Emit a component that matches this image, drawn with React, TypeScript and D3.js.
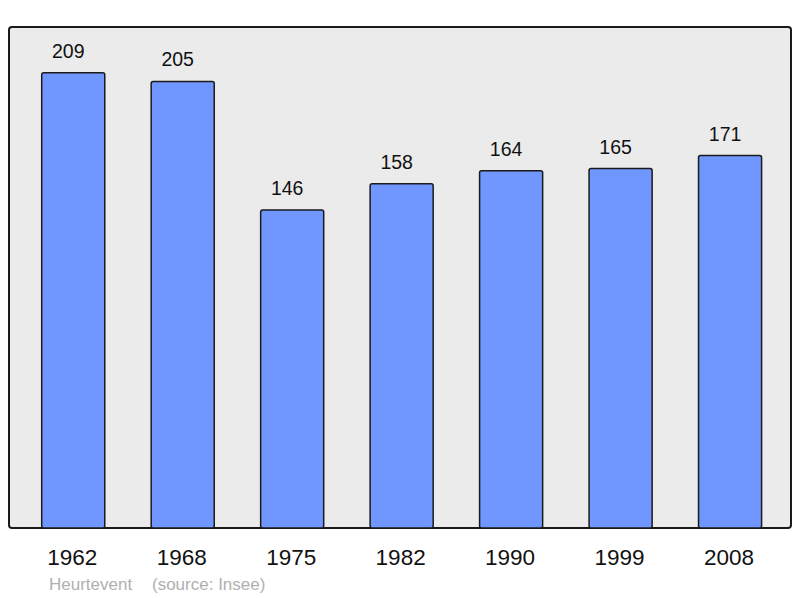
import React from 'react';
import * as d3 from 'd3';

const years: string[] = ['1962', '1968', '1975', '1982', '1990', '1999', '2008'];
const population: number[] = [209, 205, 146, 158, 164, 165, 171];
const commune = 'Heurtevent';
const source = '(source: Insee)';

const width = 800;
const height = 598;
const frame = { left: 9, top: 27, right: 791, bottom: 528 };

function App() {
    const x = d3.scaleBand<string>()
        .domain(years)
        .range([18.5, 784.8])
        .paddingInner(0.424)
        .paddingOuter(0.212);

    const y = d3.scaleLinear()
        .domain([0, 230])
        .range([frame.bottom, frame.top]);

    const mid = (yr: string) => (x(yr) as number) + x.bandwidth() / 2;

    return (
        <svg
            width={width}
            height={height}
            style={{ position: 'absolute', left: 0, top: 0 }}
            fontFamily="'Liberation Sans', Arial, sans-serif"
        >
            <rect x={0} y={0} width={width} height={height} fill="#ffffff" />
            <rect
                x={frame.left}
                y={frame.top}
                width={frame.right - frame.left}
                height={frame.bottom - frame.top}
                rx={3}
                fill="#ebebeb"
                stroke="#1a1a1a"
                strokeWidth={2}
            />
            <g className="bars">
                {years.map((yr, i) => (
                    <rect
                        key={yr}
                        x={x(yr)}
                        y={y(population[i])}
                        width={x.bandwidth()}
                        height={y(0) - y(population[i])}
                        rx={2}
                        fill="#7096ff"
                        stroke="#1a1a1a"
                        strokeWidth={1.5}
                    />
                ))}
            </g>
            {/* labels sit a little left of the bar centre, as in the original */}
            <g className="values" fontSize={19.5} fill="#111" textAnchor="middle">
                {years.map((yr, i) => (
                    <text key={yr} x={mid(yr) - 5} y={y(population[i]) - 15}>
                        {population[i]}
                    </text>
                ))}
            </g>
            <g className="x-axis" fontSize={22.5} fill="#111" textAnchor="middle">
                {years.map((yr) => (
                    <text key={yr} x={mid(yr) - 1} y={565}>
                        {yr}
                    </text>
                ))}
            </g>
            <text x={49} y={590} fontSize={17} fill="#b0b0b0">{commune}</text>
            <text x={152} y={590} fontSize={17} fill="#b0b0b0">{source}</text>
        </svg>
    );
}

export default App;
